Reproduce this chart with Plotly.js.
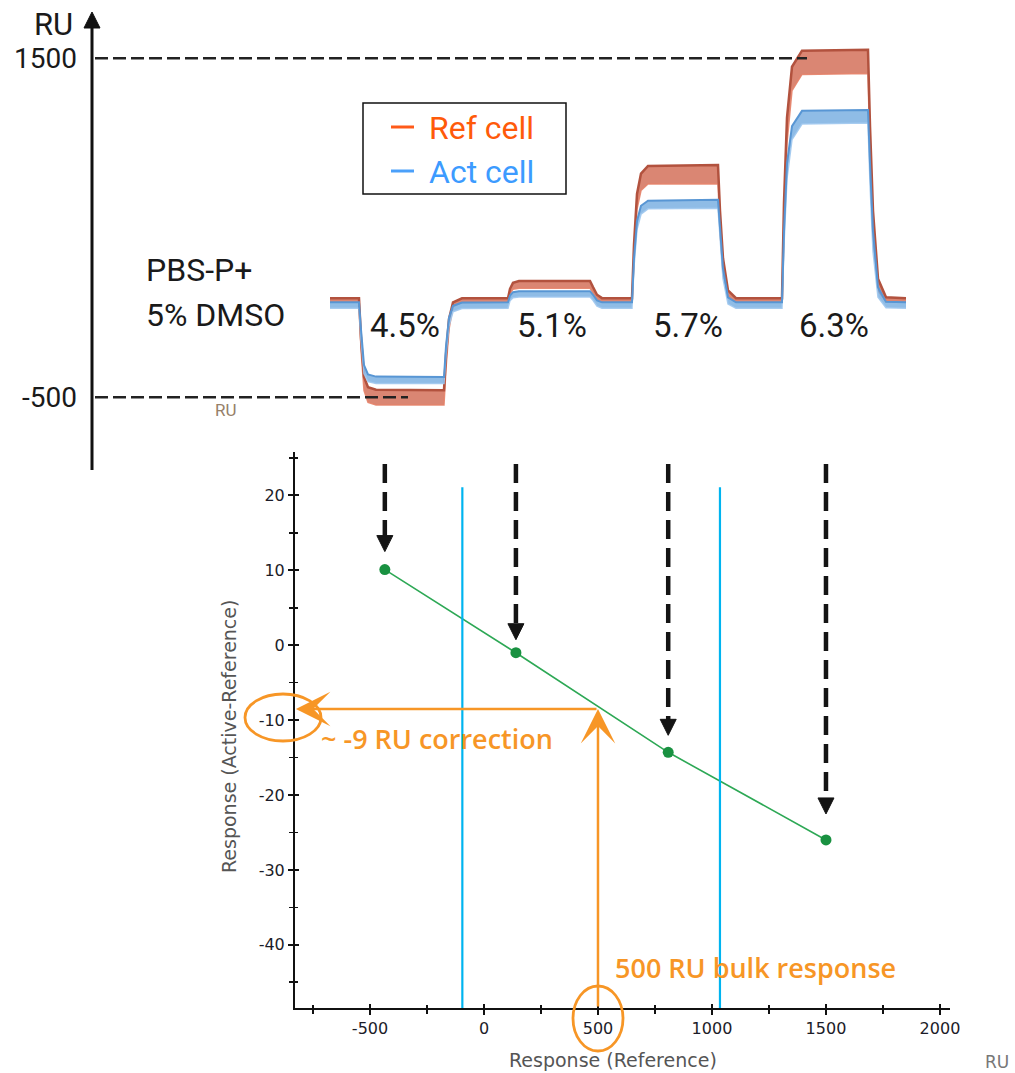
<!DOCTYPE html>
<html><head><meta charset="utf-8">
<script src="https://cdn.plot.ly/plotly-3.0.1.min.js"></script>
<style>html,body{margin:0;padding:0;background:#fff}#chart{width:1015px;height:1073px}</style>
</head><body><div id="chart"></div>
<script>
// ---------- Top panel: sensorgram (time, RU) ----------
const sensorTime = [0, 29, 31, 34, 38, 46, 114, 116, 119, 123, 132, 178, 180, 183, 189, 260, 263, 267, 272,
  302, 304, 307, 311, 318, 388, 390, 393, 398, 406, 452, 454, 457, 462, 472, 538, 540, 543, 548, 556, 576];
const refHigh = [85, 85, -150, -380, -440, -455, -458, -250, -40, 60, 84, 85, 140, 175, 186, 186, 150, 105, 85,
  85, 400, 700, 820, 865, 870, 600, 320, 130, 85, 85, 650, 1150, 1450, 1545, 1550, 1100, 600, 200, 90, 85];
const refLow = [60, 60, -220, -460, -530, -545, -545, -330, -100, 35, 59, 60, 110, 138, 144, 144, 115, 75, 60,
  60, 330, 610, 720, 758, 760, 480, 230, 95, 60, 60, 520, 1000, 1310, 1405, 1410, 920, 430, 130, 63, 60];
const actHigh = [60, 60, -100, -310, -365, -378, -380, -200, -30, 40, 59, 60, 100, 120, 126, 126, 105, 72, 60,
  60, 320, 540, 630, 660, 665, 480, 260, 90, 60, 60, 480, 880, 1100, 1190, 1195, 880, 480, 150, 63, 60];
const actLow = [25, 25, -160, -360, -408, -418, -418, -250, -80, 5, 24, 25, 70, 88, 92, 92, 72, 38, 25,
  25, 270, 490, 580, 612, 615, 420, 200, 50, 25, 25, 400, 790, 1020, 1112, 1118, 760, 360, 90, 28, 25];
const dmsoLabels = ['4.5%', '5.1%', '5.7%', '6.3%'];
const dmsoLabelTime = [75, 222, 358, 504];
const topTickVals = [1500, -500];
const topTickText = ['1500', '-500'];

// ---------- Bottom panel: solvent correction plot ----------
const refResponse = [-435, 140, 808, 1500];
const corrResponse = [10.1, -1.0, -14.3, -26.0];
const calibBounds = [-95, 1035];
const bulkResponse = 500;
const bulkCorrection = -8.5;
const xTickVals = [-500, 0, 500, 1000, 1500, 2000];
const xTickText = ['-500', '0', '500', '1000', '1500', '2000'];
const yTickVals = [20, 10, 0, -10, -20, -30, -40];
const yTickText = ['20', '10', '0', '-10', '-20', '-30', '-40'];

// ---------- layout helpers ----------
const W = 1015, H = 1073;
const px = x => x / W;
const py = y => 1 - y / H;
const ORANGE = 'rgb(247,150,38)';
const X_RANGE = [-829, 2044], Y_RANGE = [-48.44, 25.8];
const Y_TOP_PX = 452, Y_BOT_PX = 1008;
const pxPerY = (Y_BOT_PX - Y_TOP_PX) / (Y_RANGE[1] - Y_RANGE[0]);
const arrowTopY = Y_RANGE[1] - (464 - Y_TOP_PX) / pxPerY;
const arrowGapPx = [18, 13, 17, 26];
const headLenPx = 16, headHalfW = 8;

const traces = [
  {x: sensorTime, y: refLow, xaxis: 'x2', yaxis: 'y2', mode: 'lines',
   line: {color: 'rgba(228,130,105,0.9)', width: 1.5}, hoverinfo: 'skip'},
  {x: sensorTime, y: refHigh, xaxis: 'x2', yaxis: 'y2', mode: 'lines', fill: 'tonexty',
   fillcolor: 'rgba(208,100,75,0.78)', line: {color: 'rgb(178,82,62)', width: 2.5}, hoverinfo: 'skip'},
  {x: sensorTime, y: actLow, xaxis: 'x2', yaxis: 'y2', mode: 'lines',
   line: {color: 'rgba(160,200,238,0.9)', width: 1.5}, hoverinfo: 'skip'},
  {x: sensorTime, y: actHigh, xaxis: 'x2', yaxis: 'y2', mode: 'lines', fill: 'tonexty',
   fillcolor: 'rgba(105,165,222,0.75)', line: {color: 'rgb(88,150,212)', width: 2}, hoverinfo: 'skip'},
  {x: refResponse, y: corrResponse, xaxis: 'x', yaxis: 'y', mode: 'lines+markers',
   line: {color: 'rgb(45,168,85)', width: 1.6},
   marker: {color: 'rgb(25,145,65)', size: 11}, hoverinfo: 'skip'},
  // empty trace so the overlay axes (inner half of crossing ticks) are drawn
  {x: [], y: [], xaxis: 'x3', yaxis: 'y3', mode: 'markers', hoverinfo: 'skip'}
];

const shapes = [];
const annotations = [];

// top axis with arrow
shapes.push({type: 'line', xref: 'paper', yref: 'paper', x0: px(92), x1: px(92), y0: py(470), y1: py(24),
  line: {color: '#111', width: 3}});
shapes.push({type: 'path', xref: 'paper', yref: 'paper',
  path: `M ${px(84)} ${py(28)} L ${px(100)} ${py(28)} L ${px(92)} ${py(12)} Z`,
  fillcolor: '#111', line: {color: '#111', width: 1}});
// dashed reference levels
shapes.push({type: 'line', xref: 'paper', yref: 'y2', x0: px(95), x1: px(807), y0: topTickVals[0], y1: topTickVals[0],
  line: {color: '#222', width: 2.5, dash: '13px,5px'}});
shapes.push({type: 'line', xref: 'paper', yref: 'y2', x0: px(95), x1: px(408), y0: topTickVals[1], y1: topTickVals[1],
  line: {color: '#222', width: 2.5, dash: '13px,5px'}});
// legend box
shapes.push({type: 'rect', xref: 'paper', yref: 'paper', x0: px(363), x1: px(566), y0: py(194), y1: py(103),
  line: {color: '#111', width: 1.5}, fillcolor: 'rgba(255,255,255,0)'});
shapes.push({type: 'line', xref: 'paper', yref: 'paper', x0: px(391), x1: px(414), y0: py(127), y1: py(127),
  line: {color: 'rgb(255,90,25)', width: 3}});
shapes.push({type: 'line', xref: 'paper', yref: 'paper', x0: px(391), x1: px(414), y0: py(171), y1: py(171),
  line: {color: 'rgb(75,160,250)', width: 3}});

annotations.push({xref: 'paper', yref: 'paper', x: px(427), y: py(128), xanchor: 'left', yanchor: 'middle',
  text: 'Ref cell', showarrow: false, font: {family: 'Roboto', size: 32, color: 'rgb(255,90,10)'}});
annotations.push({xref: 'paper', yref: 'paper', x: px(427), y: py(172), xanchor: 'left', yanchor: 'middle',
  text: 'Act cell', showarrow: false, font: {family: 'Roboto', size: 32, color: 'rgb(60,155,255)'}});
annotations.push({xref: 'paper', yref: 'paper', x: px(75), y: py(25), xanchor: 'right', yanchor: 'middle',
  text: 'RU', showarrow: false, font: {family: 'Roboto', size: 31, color: '#1a1a1a'}});
annotations.push({xref: 'paper', yref: 'paper', x: px(144), y: py(270), xanchor: 'left', yanchor: 'middle',
  text: 'PBS-P+', showarrow: false, font: {family: 'Roboto', size: 32, color: '#1a1a1a'}});
annotations.push({xref: 'paper', yref: 'paper', x: px(144), y: py(315), xanchor: 'left', yanchor: 'middle',
  text: '5% DMSO', showarrow: false, font: {family: 'Roboto', size: 32, color: '#1a1a1a'}});
annotations.push({xref: 'paper', yref: 'paper', x: px(226), y: py(410), xanchor: 'center', yanchor: 'middle',
  text: 'RU', showarrow: false, font: {family: 'Roboto', size: 17, color: 'rgb(150,128,105)'}});
dmsoLabels.forEach((lab, i) => annotations.push({xref: 'x2', yref: 'y2', x: dmsoLabelTime[i], y: -75,
  xanchor: 'center', yanchor: 'middle', text: lab, showarrow: false,
  font: {family: 'Roboto', size: 33, color: '#1a1a1a'}}));

// bottom: cyan calibration bounds
calibBounds.forEach(v => shapes.push({type: 'line', xref: 'x', yref: 'y', x0: v, x1: v, y0: Y_RANGE[0], y1: 21.1,
  line: {color: 'rgb(0,180,240)', width: 2.2}}));
// black dashed arrows to each calibration point
refResponse.forEach((xv, i) => {
  const g = arrowGapPx[i];
  shapes.push({type: 'line', xref: 'x', yref: 'y', x0: xv, x1: xv, y0: arrowTopY,
    y1: corrResponse[i] + (g + headLenPx - 2) / pxPerY, line: {color: '#141414', width: 4.5, dash: '19px,9px'}});
  shapes.push({type: 'path', xref: 'x', yref: 'y', xsizemode: 'pixel', ysizemode: 'pixel',
    xanchor: xv, yanchor: corrResponse[i],
    path: `M ${-headHalfW} ${g + headLenPx} L ${headHalfW} ${g + headLenPx} L 0 ${g} Z`,
    fillcolor: '#141414', line: {color: '#141414', width: 1}});
});
// orange bulk correction arrows
annotations.push({xref: 'x', yref: 'y', axref: 'x', ayref: 'y', x: bulkResponse, y: bulkCorrection,
  ax: bulkResponse, ay: Y_RANGE[0], text: '', showarrow: true, arrowhead: 3, arrowsize: 2.3,
  arrowwidth: 2.5, arrowcolor: ORANGE});
annotations.push({xref: 'x', yref: 'y', axref: 'x', ayref: 'y', x: -825, y: bulkCorrection,
  ax: bulkResponse, ay: bulkCorrection, text: '', showarrow: true, arrowhead: 3, arrowsize: 2.3,
  arrowwidth: 2.5, arrowcolor: ORANGE});
shapes.push({type: 'circle', xref: 'paper', yref: 'paper', x0: px(245), x1: px(321), y0: py(741), y1: py(694),
  line: {color: ORANGE, width: 2.8}});
shapes.push({type: 'circle', xref: 'paper', yref: 'paper', x0: px(573), x1: px(623), y0: py(1051), y1: py(986),
  line: {color: ORANGE, width: 2.8}});
annotations.push({xref: 'paper', yref: 'paper', x: px(319), y: py(738), xanchor: 'left', yanchor: 'middle',
  text: '~ -9 RU correction', showarrow: false, font: {family: 'Open Sans', size: 27, weight: 600, color: ORANGE}});
annotations.push({xref: 'paper', yref: 'paper', x: px(613), y: py(967), xanchor: 'left', yanchor: 'middle',
  text: '500 RU bulk response', showarrow: false, font: {family: 'Open Sans', size: 27, weight: 600, color: ORANGE}});
// bottom axis titles
annotations.push({xref: 'paper', yref: 'paper', x: px(613), y: py(1060), xanchor: 'center', yanchor: 'middle',
  text: 'Response (Reference)', showarrow: false, font: {family: 'DejaVu Sans', size: 19, color: '#555'}});
annotations.push({xref: 'paper', yref: 'paper', x: px(229), y: py(737), xanchor: 'center', yanchor: 'middle',
  text: 'Response (Active-Reference)', textangle: -90, showarrow: false,
  font: {family: 'DejaVu Sans', size: 19, color: '#555'}});
annotations.push({xref: 'paper', yref: 'paper', x: px(997), y: py(1062), xanchor: 'center', yanchor: 'middle',
  text: 'RU', showarrow: false, font: {family: 'DejaVu Sans', size: 17, color: '#777'}});

const tickFont = {family: 'DejaVu Sans', size: 16, color: '#1c1c28'};
const bottomX = {domain: [px(295), px(950)], range: X_RANGE, showgrid: false, zeroline: false,
  tickwidth: 2, tickcolor: '#111', ticklen: 5, tickmode: 'array', tickvals: xTickVals, ticktext: xTickText,
  tickfont: tickFont};
const bottomY = {domain: [py(Y_BOT_PX), py(Y_TOP_PX)], range: Y_RANGE, showgrid: false, zeroline: false,
  tickwidth: 2, tickcolor: '#111', ticklen: 5, tickmode: 'array', tickvals: yTickVals, ticktext: yTickText,
  tickfont: tickFont};
const layout = {
  width: W, height: H, margin: {l: 0, r: 0, t: 0, b: 0},
  paper_bgcolor: '#fff', plot_bgcolor: 'rgba(0,0,0,0)', showlegend: false, hovermode: false,
  xaxis: Object.assign({}, bottomX, {anchor: 'y', showline: true, linecolor: '#111', linewidth: 2, ticks: 'outside',
    minor: {tickmode: 'linear', tick0: 0, dtick: 250, ticks: 'outside', ticklen: 4, tickwidth: 1.5, tickcolor: '#111'}}),
  yaxis: Object.assign({}, bottomY, {anchor: 'x', showline: true, linecolor: '#111', linewidth: 2, ticks: 'outside',
    minor: {tickmode: 'linear', tick0: 0, dtick: 5, ticks: 'outside', ticklen: 4, tickwidth: 1.5, tickcolor: '#111'}}),
  xaxis3: Object.assign({}, bottomX, {anchor: 'y3', overlaying: 'x', showline: false, ticks: 'inside', ticklen: 4,
    showticklabels: false,
    minor: {tickmode: 'linear', tick0: 0, dtick: 250, ticks: 'inside', ticklen: 3, tickwidth: 1.5, tickcolor: '#111'}}),
  yaxis3: Object.assign({}, bottomY, {anchor: 'x3', overlaying: 'y', showline: false, ticks: 'inside', ticklen: 4,
    showticklabels: false,
    minor: {tickmode: 'linear', tick0: 0, dtick: 5, ticks: 'inside', ticklen: 3, tickwidth: 1.5, tickcolor: '#111'}}),
  xaxis2: {domain: [px(92), px(1000)], range: [-238, 670], anchor: 'y2', visible: false},
  yaxis2: {domain: [py(470), py(10)], range: [-929, 1785], anchor: 'x2', showline: false, showgrid: false,
    zeroline: false, ticks: '', tickmode: 'array', tickvals: topTickVals, ticktext: topTickText,
    ticklabelstandoff: 14, tickfont: {family: 'Roboto', size: 28, color: '#1a1a1a'}},
  shapes: shapes,
  annotations: annotations
};
Plotly.newPlot('chart', traces, layout, {displayModeBar: false, staticPlot: true});
</script></body></html>
